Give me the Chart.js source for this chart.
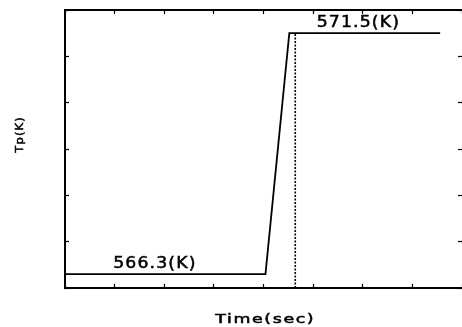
<!DOCTYPE html>
<html>
<head>
<meta charset="utf-8">
<script src="https://cdn.jsdelivr.net/npm/chart.js@4.4.0/dist/chart.umd.min.js"></script>
<style>
  html, body { margin: 0; padding: 0; background: #fff; }
  canvas { display: block; }
</style>
</head>
<body>
<canvas id="tpChart" width="462" height="327"></canvas>
<script>
// Tp(K) step (time axis is unlabeled, 8 ticks)
const timePoints = [0, 20.2, 22.6, 37.8];
const tpValues = [566.3, 566.3, 571.5, 571.5];
const markerTime = [23.2, 23.2];
const markerTp = [566, 571.5];
const timeRange = [0, 40];
const timeStep = 5;
const tpRange = [566, 572];
const tpStep = 1;
const labelTexts = ['566.3(K)', '571.5(K)'];
const labelLevels = [566.3, 571.5];
const labelTimes = [8.9, 29.4];

const toPoints = (xs, ys) => xs.map((x, i) => ({ x: x, y: ys[i] }));

// axis with inward tick marks and no reserved space
function frameAxis(position, min, max, step, showBorder) {
    return {
        type: 'linear',
        position: position,
        min: min,
        max: max,
        ticks: { display: false, stepSize: step },
        grid: {
            display: true,
            drawOnChartArea: false,
            drawTicks: true,
            tickLength: -4,
            tickColor: '#000',
            tickWidth: 1.2
        },
        border: { display: showBorder, color: '#000', width: 2 },
        afterFit: scale => {
            if (scale.isHorizontal()) scale.height = 0; else scale.width = 0;
        }
    };
}

// the original lettering is a wide plotter font, so stretch it a bit
function wideText(ctx, text, x, y, sx, spacing) {
    ctx.save();
    ctx.translate(x, y);
    ctx.scale(sx, 1);
    ctx.letterSpacing = spacing + 'px';
    ctx.textAlign = 'center';
    ctx.lineWidth = 0.5;
    ctx.strokeStyle = '#000';
    ctx.fillText(text, spacing / 2, 0);
    ctx.strokeText(text, spacing / 2, 0);
    ctx.restore();
}

const textPlugin = {
    id: 'plotText',
    afterDraw(chart) {
        const { ctx, chartArea } = chart;
        const x = chart.scales.x;
        const y = chart.scales.y;
        ctx.save();
        ctx.fillStyle = '#000';
        ctx.textBaseline = 'alphabetic';

        ctx.font = '15px "DejaVu Sans"';
        labelTexts.forEach((t, i) => {
            wideText(ctx, t, x.getPixelForValue(labelTimes[i]) + 1, y.getPixelForValue(labelLevels[i]) - 6, 1.15, 1);
        });

        ctx.font = '12px "DejaVu Sans"';
        wideText(ctx, 'Time(sec)', (chartArea.left + chartArea.right) / 2 + 1, 323, 1.45, 1.1);

        ctx.font = '10px "DejaVu Sans"';
        ctx.translate(20, 135);
        ctx.rotate(-Math.PI / 2);
        ctx.textBaseline = 'middle';
        wideText(ctx, 'Tp(K)', 0, 0, 1.15, 1);
        ctx.restore();
    }
};

new Chart(document.getElementById('tpChart').getContext('2d'), {
    type: 'line',
    data: {
        datasets: [{
            label: 'Tp',
            data: toPoints(timePoints, tpValues),
            borderColor: '#000',
            borderWidth: 1.8,
            pointRadius: 0,
            tension: 0,
            fill: false
        }, {
            label: 'marker',
            data: toPoints(markerTime, markerTp),
            borderColor: '#000',
            borderWidth: 1.6,
            borderDash: [2, 1.5],
            pointRadius: 0,
            fill: false
        }]
    },
    options: {
        responsive: false,
        animation: false,
        layout: { padding: { left: 65, top: 10, right: 0, bottom: 39 } },
        plugins: {
            legend: { display: false },
            tooltip: { enabled: false }
        },
        scales: {
            x: frameAxis('bottom', timeRange[0], timeRange[1], timeStep, true),
            x2: frameAxis('top', timeRange[0], timeRange[1], timeStep, true),
            y: frameAxis('left', tpRange[0], tpRange[1], tpStep, true),
            y2: frameAxis('right', tpRange[0], tpRange[1], tpStep, false)
        }
    },
    plugins: [textPlugin]
});
</script>
</body>
</html>
